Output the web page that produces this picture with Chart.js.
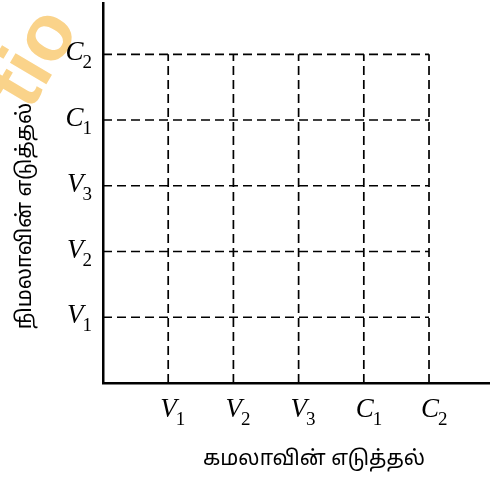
<!DOCTYPE html>
<html>
<head>
<meta charset="utf-8">
<script src="https://cdn.jsdelivr.net/npm/chart.js@4.4.0/dist/chart.umd.min.js"></script>
<style>
    html, body { margin: 0; padding: 0; background: #fff; }
    #wrap { position: relative; width: 496px; height: 479px; }
</style>
</head>
<body>
<div id="wrap"><canvas id="choiceChart" width="496" height="479"></canvas></div>
<script>
// Data
const gridSteps = [1, 2, 3, 4, 5];
const tickLetters = ['V', 'V', 'V', 'C', 'C'];
const tickSubs = ['1', '2', '3', '1', '2'];
const xTitle = 'கமலாவின் எடுத்தல்';
const yTitle = 'நிமலாவின் எடுத்தல்';
const watermark = 'tio';

const gridMax = gridSteps[gridSteps.length - 1];

// dashed guide lines: verticals from the x axis, horizontals from the y axis
const datasets = [];
gridSteps.forEach(v => {
    datasets.push({ data: [{ x: v, y: 0 }, { x: v, y: gridMax }] });
    datasets.push({ data: [{ x: 0, y: v }, { x: gridMax, y: v }] });
});
datasets.forEach(d => {
    d.borderColor = '#000';
    d.borderWidth = 1.7;
    d.borderDash = [9, 5];
    d.pointRadius = 0;
    d.fill = false;
    d.showLine = true;
});

const TAMIL = "'Noto Sans Tamil', 'Lato', 'DejaVu Sans', sans-serif";

// draw the V1..C2 labels with subscripts and the axis titles
const labelPlugin = {
    id: 'labels',
    afterDraw(chart) {
        const ctx = chart.ctx;
        const xs = chart.scales.x, ys = chart.scales.y;
        const drawLabel = (letter, sub, x, y, align) => {
            ctx.save();
            ctx.fillStyle = '#000';
            ctx.textBaseline = 'alphabetic';
            ctx.font = 'italic 27px "Liberation Serif", serif';
            const lw = ctx.measureText(letter).width;
            ctx.font = '19px "Liberation Serif", serif';
            const sw = ctx.measureText(sub).width;
            let start = align === 'right' ? x - lw - sw : x;
            ctx.font = 'italic 27px "Liberation Serif", serif';
            ctx.fillText(letter, start, y);
            ctx.font = '19px "Liberation Serif", serif';
            ctx.fillText(sub, start + lw - 1, y + 8);
            ctx.restore();
        };
        gridSteps.forEach((v, i) => {
            drawLabel(tickLetters[i], tickSubs[i], xs.getPixelForValue(v) - 8, xs.bottom + 34, 'left');
            drawLabel(tickLetters[i], tickSubs[i], xs.left - 10, ys.getPixelForValue(v) + 6, 'right');
        });

        ctx.save();
        ctx.fillStyle = '#000';
        ctx.font = '21px ' + TAMIL;
        ctx.textAlign = 'center';
        ctx.textBaseline = 'middle';
        ctx.fillText(xTitle, 314, 461);
        ctx.translate(27, 216);
        ctx.rotate(-Math.PI / 2);
        ctx.fillText(yTitle, 0, 0);
        ctx.restore();
    },
    beforeDraw(chart) {
        const ctx = chart.ctx;
        ctx.save();
        ctx.fillStyle = '#fad38a';
        ctx.font = 'bold 80px "Liberation Sans", sans-serif';
        ctx.translate(30, 112);
        ctx.rotate(-Math.PI * 0.33);
        ctx.fillText(watermark, 0, 0);
        ctx.restore();
    }
};

new Chart(document.getElementById('choiceChart'), {
    type: 'scatter',
    data: { datasets: datasets },
    options: {
        responsive: false,
        animation: false,
        layout: { padding: { left: 103, right: 7, top: 3, bottom: 96 } },
        plugins: { legend: { display: false }, tooltip: { enabled: false } },
        scales: {
            x: {
                type: 'linear', min: 0, max: 5.92,
                ticks: { display: false },
                grid: { display: false, drawTicks: false },
                border: { display: true, color: '#000', width: 2.5 }
            },
            y: {
                type: 'linear', min: 0, max: 5.78,
                ticks: { display: false },
                grid: { display: false, drawTicks: false },
                border: { display: true, color: '#000', width: 2.5 }
            }
        }
    },
    plugins: [labelPlugin]
});
</script>
</body>
</html>
